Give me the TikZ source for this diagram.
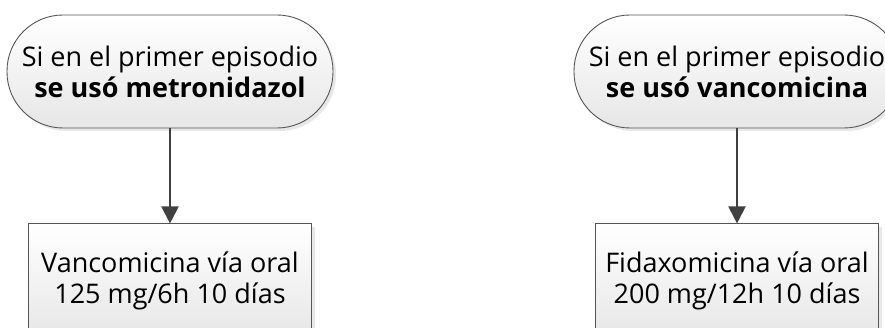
\documentclass[tikz,border=0pt]{standalone}
\usepackage{fontspec}
\setmainfont{Open Sans}
\usepackage{tikz}
\usetikzlibrary{arrows.meta,positioning,shadows}

\definecolor{edgegray}{HTML}{555555}
\definecolor{arrowgray}{HTML}{404040}
\definecolor{fillgray}{HTML}{E6E6E6}

\begin{document}
\begin{tikzpicture}[
    x=1pt, y=1pt,
    txt/.style={align=center, font=\fontsize{27}{31}\selectfont, text=black},
    terminal/.style={txt, draw=edgegray, line width=0.9pt, rounded corners=56pt, minimum width=326pt, minimum height=113pt, top color=white, bottom color=fillgray, drop shadow={shadow xshift=3pt, shadow yshift=-3pt, fill=gray!35}},
    action/.style={txt, draw=edgegray, line width=0.9pt, minimum width=283pt, minimum height=114pt, top color=white, bottom color=fillgray, drop shadow={shadow xshift=3pt, shadow yshift=-3pt, fill=gray!35}},
    flow/.style={-{Triangle[length=17pt,width=17pt]}, line width=2pt, draw=arrowgray, fill=arrowgray}
]
\useasboundingbox (0,0) rectangle (885,-328);

% primer episodio: metronidazol
\node [terminal] (metro) at (170,-71.5) {Si en el primer episodio\\\textbf{se usó metronidazol}};
\node [action, below=95pt of metro] (vanco) {Vancomicina vía oral\\125 mg/6h 10 días};

% primer episodio: vancomicina
\node [terminal] (vancoprev) at (737,-71.5) {Si en el primer episodio\\\textbf{se usó vancomicina}};
\node [action, below=95pt of vancoprev] (fidax) {Fidaxomicina vía oral\\200 mg/12h 10 días};

\draw [flow] (metro) -- (vanco);
\draw [flow] (vancoprev) -- (fidax);

\end{tikzpicture}
\end{document}
